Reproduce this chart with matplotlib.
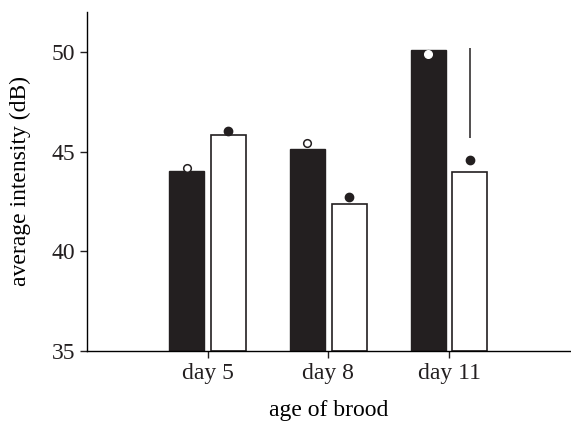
import numpy as np
import matplotlib.pyplot as plt

plt.rcParams['font.family'] = ['Liberation Serif', 'DejaVu Serif']

days = ['day 5', 'day 8', 'day 11']
black_vals = [44.05, 45.15, 50.1]
white_vals = [45.85, 42.35, 43.95]
open_pts = [44.2, 45.45, 49.9]     # open circles over black bars
filled_pts = [46.05, 42.7, 44.6]   # filled dots over white bars
err_top = [None, None, 50.2]
err_bottom = [None, None, 45.7]

f = plt.figure(figsize=(5.71, 4.29), dpi=100)
ax = f.add_axes([0.152, 0.182, 0.846, 0.79])

x = np.arange(len(days))
w = 0.29
off = 0.173

ax.bar(x - off, [v - 35 for v in black_vals], w, bottom=35, color='#231f20',
       edgecolor='#231f20', linewidth=1, zorder=2)
ax.bar(x + off, [v - 35 for v in white_vals], w, bottom=35, color='white',
       edgecolor='#231f20', linewidth=1.2, zorder=2)

ax.plot(x - off, open_pts, 'o', ms=5.5, mfc='white', mec='#231f20', mew=1.1,
        ls='none', zorder=3)
ax.plot(x + off, filled_pts, 'o', ms=6, mfc='#231f20', mec='#231f20',
        ls='none', zorder=3)
for i in range(len(days)):
    if err_top[i] is not None:
        ax.vlines(x[i] + off, err_bottom[i], err_top[i], color='#231f20', lw=1.1)

# open circle sits inside the black bar on day 11, draw it white
ax.plot(x[2] - off, open_pts[2], 'o', ms=5.5, mfc='white', mec='white', zorder=4)

ax.set_xlim(-1, 3)
ax.set_ylim(35, 52)
ax.set_yticks([35, 40, 45, 50])
ax.set_xticks(x)
ax.set_xticklabels(days)
ax.spines['top'].set_visible(False)
ax.spines['right'].set_visible(False)
ax.spines['left'].set_linewidth(1)
ax.spines['bottom'].set_linewidth(1)
ax.tick_params(direction='out', length=5, width=1, labelsize=17, colors='#231f20')
ax.set_xlabel('age of brood', fontsize=17, labelpad=12)
ax.set_ylabel('average intensity (dB)', fontsize=17, labelpad=15)

f.savefig('out.png', dpi=100)
